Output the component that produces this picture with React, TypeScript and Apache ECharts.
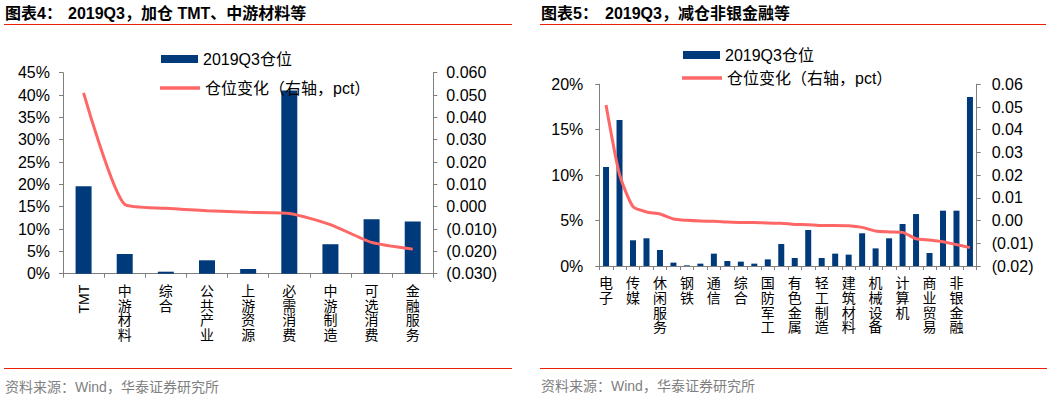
import React, { useEffect, useRef } from "react";
import * as echarts from "echarts";

const cats1 = ["TMT", "中游材料", "综合", "公共产业", "上游资源", "必需消费", "中游制造", "可选消费", "金融服务"];
const pos1 = [19.6, 4.4, 0.45, 3.0, 1.05, 41.0, 6.6, 12.2, 11.7];
const chg1 = [0.051, 0.001, -0.0007, -0.0018, -0.0025, -0.003, -0.008, -0.016, -0.019];

const cats2 = [
  "电子", "医药生物", "传媒", "计算机Ⅱ", "休闲服务", "农林牧渔", "钢铁", "采掘", "通信", "化工",
  "综合", "纺织服装", "国防军工", "家用电器", "有色金属", "交通运输", "轻工制造", "公用事业",
  "建筑材料", "房地产", "机械设备", "建筑装饰", "计算机", "电气设备", "商业贸易", "汽车", "非银金融", "银行",
];
const pos2 = [10.9, 16.07, 2.83, 3.05, 1.76, 0.37, 0.07, 0.26, 1.36, 0.55, 0.48, 0.26, 0.73, 2.42, 0.88, 3.96, 0.88, 1.36, 1.25, 3.6, 1.94, 3.05, 4.62, 5.72, 1.43, 6.09, 6.09, 18.6];
const chg2 = [0.0509, 0.0203, 0.0061, 0.0038, 0.0029, 0.0007, 0.0001, -0.0002, -0.0003, -0.0006, -0.0008, -0.0008, -0.0011, -0.0012, -0.0017, -0.0018, -0.0022, -0.0022, -0.0023, -0.003, -0.0046, -0.005, -0.0052, -0.008, -0.0086, -0.0093, -0.0106, -0.0119];

const barName = "2019Q3仓位";
const lineName = "仓位变化（右轴，pct）";
const FONT = "Liberation Sans, Arial, Noto Sans CJK SC, sans-serif";
const BAR = "#003A7A";
const LINE = "#FF6666";
const AXIS = "#7F7F7F";
const RED = "#E8200A";

const fmtNeg = (d: number) => (v: number) => {
  if (Math.abs(v) < 1e-9) return (0).toFixed(d);
  return v < 0 ? "(" + Math.abs(v).toFixed(d) + ")" : v.toFixed(d);
};

const vert = (s: string) => (s === "TMT" ? "" : s.split("").join("\n"));

export default function App() {
  const ref = useRef<HTMLDivElement>(null);
  useEffect(() => {
    document.body.style.margin = "0";
    const chart = echarts.init(ref.current!, null, { renderer: "svg" });
    const axisLine = { show: true, lineStyle: { color: AXIS, width: 1 } };
    const axisTick = { show: true, length: 4, lineStyle: { color: AXIS } };
    const yLabel = (m: number, f: any) => ({ fontSize: 16, color: "#000", fontFamily: FONT, margin: m, formatter: f });
    const xLabel = (interval: number) => ({
      interval,
      fontSize: 14,
      lineHeight: 14.6,
      color: "#000",
      fontFamily: FONT,
      margin: 10,
      formatter: vert,
    });
    const legendBase = {
      orient: "vertical",
      itemGap: 5,
      textStyle: { fontSize: 16, color: "#000", fontFamily: FONT },
    };
    chart.setOption({
      animation: false,
      grid: [
        { left: 63, right: 1052 - 433.3, top: 72.7, bottom: 397 - 273.7 },
        { left: 599.3, right: 1052 - 976.7, top: 84.3, bottom: 397 - 266 },
      ],
      legend: [
        { ...legendBase, left: 156, top: 46, itemWidth: 37, itemHeight: 8, data: [{ name: barName, icon: "rect" }] },
        { ...legendBase, left: 155, top: 75, itemWidth: 40, itemHeight: 3.5, data: [{ name: lineName, icon: "rect", itemStyle: { color: LINE } }] },
        { ...legendBase, left: 678, top: 42, itemWidth: 37, itemHeight: 8, data: [{ name: barName + " ", icon: "rect" }] },
        { ...legendBase, left: 677, top: 65, itemWidth: 40, itemHeight: 3.5, data: [{ name: lineName + " ", icon: "rect", itemStyle: { color: LINE } }] },
      ],
      xAxis: [
        {
          type: "category", gridIndex: 0, data: cats1, boundaryGap: true,
          axisLine, axisTick: { ...axisTick, interval: 0, alignWithLabel: false }, axisLabel: xLabel(0),
        },
        {
          type: "category", gridIndex: 1, data: cats2, boundaryGap: true,
          axisLine, axisTick: { ...axisTick, interval: 0, alignWithLabel: false }, axisLabel: xLabel(1),
        },
      ],
      yAxis: [
        { type: "value", gridIndex: 0, min: 0, max: 45, interval: 5, axisLine, axisTick, splitLine: { show: false }, axisLabel: yLabel(13, "{value}%") },
        { type: "value", gridIndex: 0, position: "right", min: -0.03, max: 0.06, interval: 0.01, axisLine, axisTick, splitLine: { show: false }, axisLabel: yLabel(13, fmtNeg(3)) },
        { type: "value", gridIndex: 1, min: 0, max: 20, interval: 5, axisLine, axisTick, splitLine: { show: false }, axisLabel: yLabel(16, "{value}%") },
        { type: "value", gridIndex: 1, position: "right", min: -0.02, max: 0.06, interval: 0.01, axisLine, axisTick, splitLine: { show: false }, axisLabel: yLabel(15, fmtNeg(2)) },
      ],
      series: [
        { name: barName, type: "bar", xAxisIndex: 0, yAxisIndex: 0, data: pos1, barWidth: 16, itemStyle: { color: BAR } },
        { name: lineName, type: "line", xAxisIndex: 0, yAxisIndex: 1, data: chg1, smooth: 0.2, symbol: "none", lineStyle: { color: LINE, width: 3 }, itemStyle: { color: LINE } },
        { name: barName + " ", type: "bar", xAxisIndex: 1, yAxisIndex: 2, data: pos2, barWidth: 6, itemStyle: { color: BAR } },
        { name: lineName + " ", type: "line", xAxisIndex: 1, yAxisIndex: 3, data: chg2, smooth: 0.2, symbol: "none", lineStyle: { color: LINE, width: 3 }, itemStyle: { color: LINE } },
      ],
    });
    const tx = chart.convertToPixel({ xAxisIndex: 0 } as any, "TMT") as any;
    const ty = chart.convertToPixel({ yAxisIndex: 0 } as any, 0) as any;
    const titleStyle = { fontSize: 16, fontWeight: "bold", fill: "#000", fontFamily: FONT };
    const srcStyle = { fontSize: 14, fill: "#7F7F7F", fontFamily: FONT };
    chart.setOption({
      graphic: [
        { type: "text", x: 5, y: 13, style: { ...titleStyle, text: "图表4：", verticalAlign: "middle" } },
        { type: "text", x: 68, y: 13, style: { ...titleStyle, text: "2019Q3，加仓 TMT、中游材料等", verticalAlign: "middle" } },
        { type: "text", x: 541, y: 13, style: { ...titleStyle, text: "图表5：", verticalAlign: "middle" } },
        { type: "text", x: 605, y: 13, style: { ...titleStyle, text: "2019Q3，减仓非银金融等", verticalAlign: "middle" } },
        { type: "line", shape: { x1: 4, y1: 24.5, x2: 512, y2: 24.5 }, style: { stroke: RED, lineWidth: 1 } },
        { type: "line", shape: { x1: 540, y1: 24.5, x2: 1046, y2: 24.5 }, style: { stroke: RED, lineWidth: 1 } },
        { type: "line", shape: { x1: 4, y1: 368.5, x2: 512, y2: 368.5 }, style: { stroke: RED, lineWidth: 1 } },
        { type: "line", shape: { x1: 540, y1: 368.5, x2: 1047, y2: 368.5 }, style: { stroke: RED, lineWidth: 1 } },
        { type: "text", x: 5, y: 387, style: { ...srcStyle, text: "资料来源：Wind，华泰证券研究所", verticalAlign: "middle" } },
        { type: "text", x: 541, y: 386, style: { ...srcStyle, text: "资料来源：Wind，华泰证券研究所", verticalAlign: "middle" } },
        {
          type: "text", x: tx, y: ty + 11, rotation: Math.PI / 2,
          style: { text: "TMT", fontSize: 14, fill: "#000", fontFamily: FONT, align: "right", verticalAlign: "middle" },
        },
      ],
    });
    return () => chart.dispose();
  }, []);
  return <div ref={ref} style={{ width: 1052, height: 397 }} />;
}
